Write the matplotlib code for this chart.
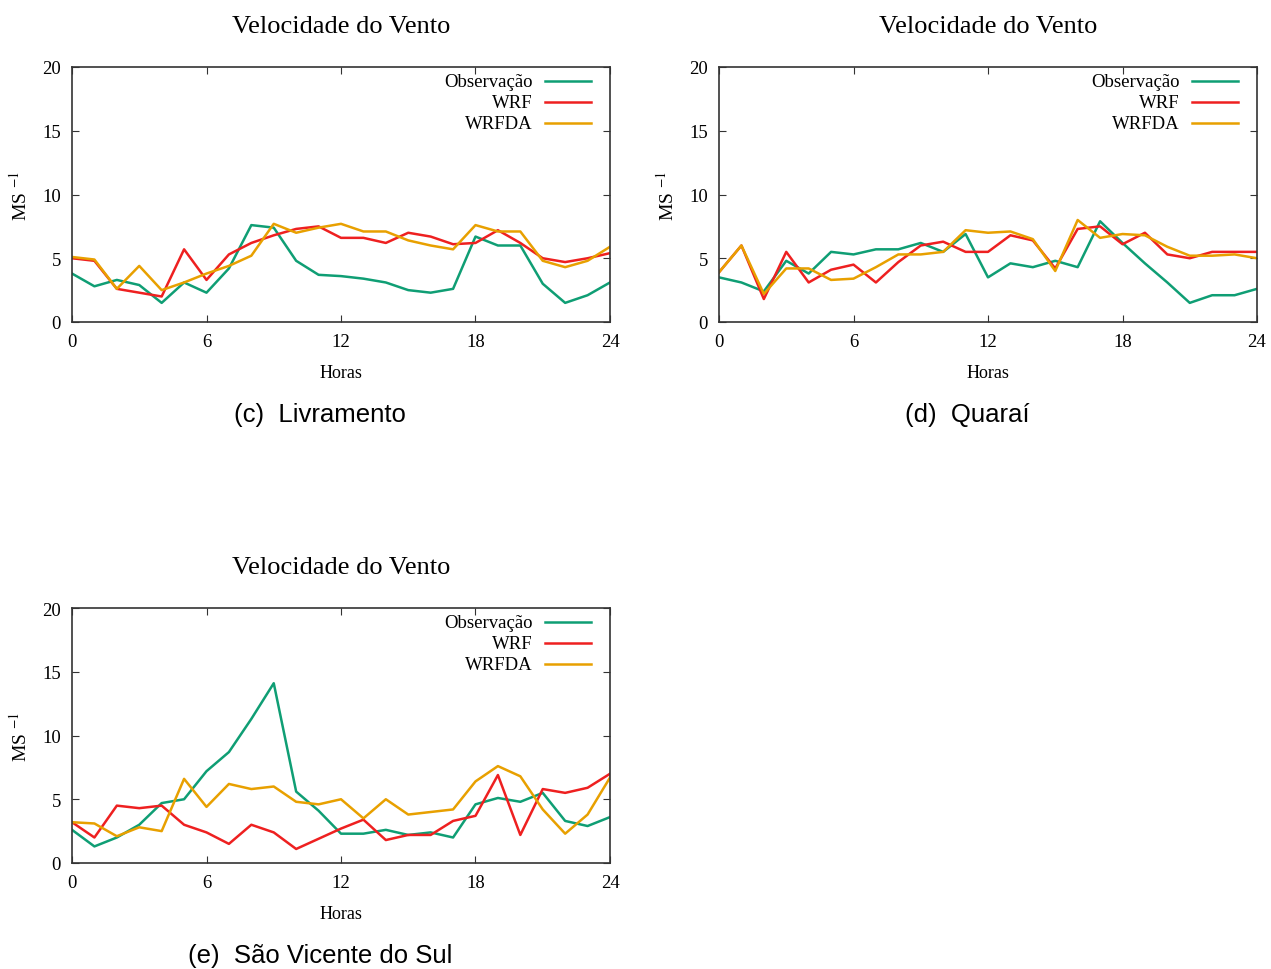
import numpy as np
import matplotlib
matplotlib.use("Agg")
from matplotlib import pyplot as plt

horas = list(range(25))

# (c) Livramento
obs_c = [3.8, 2.8, 3.3, 2.9, 1.5, 3.1, 2.3, 4.2, 7.6, 7.4, 4.8, 3.7, 3.6,
         3.4, 3.1, 2.5, 2.3, 2.6, 6.7, 6.0, 6.0, 3.0, 1.5, 2.1, 3.1]
wrf_c = [5.0, 4.8, 2.6, 2.3, 2.0, 5.7, 3.3, 5.3, 6.2, 6.8, 7.3, 7.5, 6.6,
         6.6, 6.2, 7.0, 6.7, 6.1, 6.2, 7.2, 6.2, 5.0, 4.7, 5.0, 5.4]
wrfda_c = [5.1, 4.9, 2.6, 4.4, 2.5, 3.1, 3.8, 4.4, 5.2, 7.7, 7.0, 7.4, 7.7,
           7.1, 7.1, 6.4, 6.0, 5.7, 7.6, 7.1, 7.1, 4.8, 4.3, 4.8, 5.9]

# (d) Quarai
obs_d = [3.5, 3.1, 2.4, 4.8, 3.8, 5.5, 5.3, 5.7, 5.7, 6.2, 5.5, 6.9, 3.5,
         4.6, 4.3, 4.8, 4.3, 7.9, 6.2, 4.6, 3.1, 1.5, 2.1, 2.1, 2.6]
wrf_d = [3.9, 6.0, 1.8, 5.5, 3.1, 4.1, 4.5, 3.1, 4.7, 6.0, 6.3, 5.5, 5.5,
         6.8, 6.4, 4.2, 7.3, 7.5, 6.1, 7.0, 5.3, 5.0, 5.5, 5.5, 5.5]
wrfda_d = [3.9, 6.0, 2.2, 4.2, 4.2, 3.3, 3.4, 4.3, 5.3, 5.3, 5.5, 7.2, 7.0,
           7.1, 6.5, 4.0, 8.0, 6.6, 6.9, 6.8, 5.9, 5.2, 5.2, 5.3, 5.0]

# (e) Sao Vicente do Sul
obs_e = [2.6, 1.3, 2.0, 3.0, 4.7, 5.0, 7.2, 8.7, 11.3, 14.1, 5.6, 4.1, 2.3,
         2.3, 2.6, 2.2, 2.4, 2.0, 4.6, 5.1, 4.8, 5.5, 3.3, 2.9, 3.6]
wrf_e = [3.2, 2.0, 4.5, 4.3, 4.5, 3.0, 2.4, 1.5, 3.0, 2.4, 1.1, 1.9, 2.7,
         3.4, 1.8, 2.2, 2.2, 3.3, 3.7, 6.9, 2.2, 5.8, 5.5, 5.9, 7.0]
wrfda_e = [3.2, 3.1, 2.1, 2.8, 2.5, 6.6, 4.4, 6.2, 5.8, 6.0, 4.8, 4.6, 5.0,
           3.5, 5.0, 3.8, 4.0, 4.2, 6.4, 7.6, 6.8, 4.2, 2.3, 3.8, 6.7]

series_names = ["Observação", "WRF", "WRFDA"]
cores = ["#0f9e74", "#ee2020", "#e8a000"]

plt.rcParams["font.family"] = "Liberation Serif"
plt.rcParams["mathtext.fontset"] = "stix"

fig = plt.figure(figsize=(12.71, 9.70), dpi=100)

W, H = 1271, 970


def painel(x0, y_top, dados, legenda):
    ax = fig.add_axes([x0 / W, 1 - (y_top + 255) / H, 538 / W, 255 / H])
    for serie, cor in zip(dados, cores):
        ax.plot(horas, serie, color=cor, lw=1.8)
    ax.set_xlim(0, 24)
    ax.set_ylim(0, 20)
    ax.set_xticks([0, 6, 12, 18, 24])
    ax.set_yticks([0, 5, 10, 15, 20])
    ax.tick_params(direction="in", top=True, right=True, length=5,
                   labelsize=13.5, pad=8, color="#333333")
    for s in ax.spines.values():
        s.set_color("#333333")
        s.set_linewidth(1.2)
    ax.set_xlabel("Horas", fontsize=13, labelpad=10)
    ax.set_ylabel("MS $^{-1}$", fontsize=14, labelpad=8)
    ax.set_title("Velocidade do Vento", fontsize=19, pad=25)
    # legenda no estilo gnuplot: texto a direita, linha depois
    for i, (nome, cor) in enumerate(zip(series_names, cores)):
        yy = 0.945 - i * 0.083
        ax.text(0.857, yy, nome, transform=ax.transAxes, ha="right",
                va="center", fontsize=13.5)
        ax.plot([0.879, 0.965], [yy, yy], transform=ax.transAxes,
                color=cor, lw=1.8, clip_on=False)
    fig.text((x0 + 248) / W, 1 - (y_top + 347) / H, legenda,
             ha="center", va="center", fontsize=18.5, family="Liberation Sans")
    return ax


painel(72, 68, [obs_c, wrf_c, wrfda_c], "(c)  Livramento")
painel(719, 68, [obs_d, wrf_d, wrfda_d], "(d)  Quaraí")
painel(72, 609, [obs_e, wrf_e, wrfda_e], "(e)  São Vicente do Sul")

fig.savefig("out.png", dpi=100)
